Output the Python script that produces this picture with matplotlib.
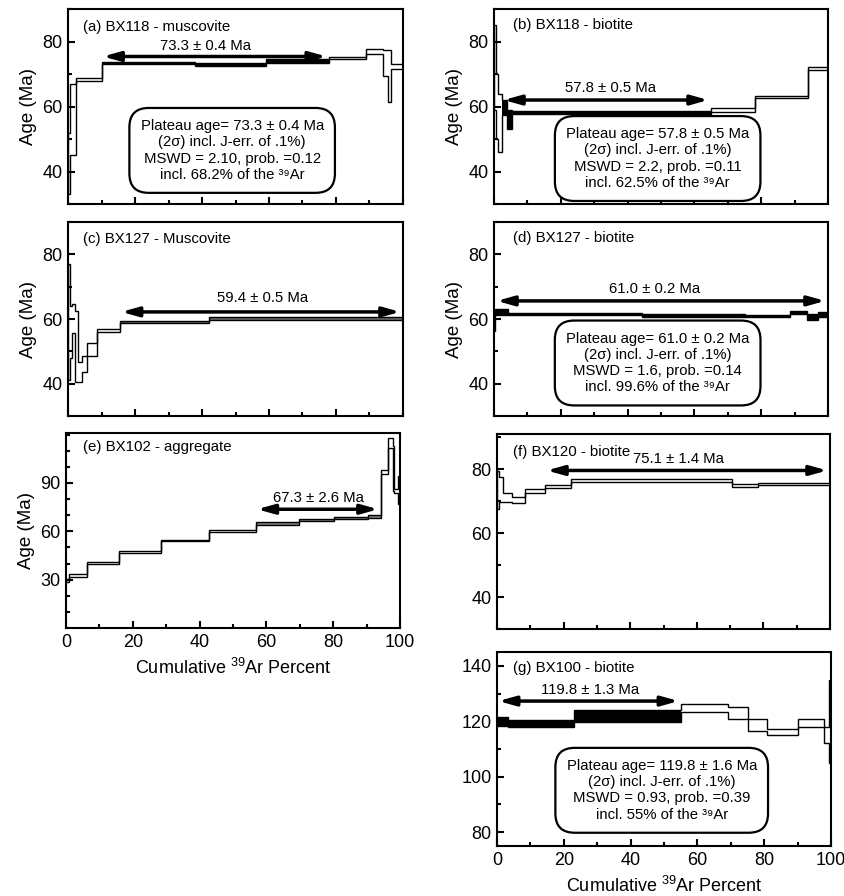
import matplotlib
matplotlib.use("Agg")
import matplotlib.pyplot as plt
from matplotlib.ticker import MultipleLocator, FixedLocator
import numpy as np

plt.rcParams['font.family'] = ['Liberation Sans', 'DejaVu Sans']
plt.rcParams['mathtext.fontset'] = 'custom'
plt.rcParams['mathtext.rm'] = 'Liberation Sans'
plt.rcParams['mathtext.it'] = 'Liberation Sans:italic'

# step edges (cumulative 39Ar %), ages (Ma), 2-sigma half widths, plateau steps [start, stop)
# (a) BX118 muscovite
a_edges = [0, 0.7, 2.3, 10, 38, 59, 78, 89, 94, 95.5, 96.5, 100]
a_age = [42.5, 56, 68.4, 73.4, 72.9, 74.0, 74.9, 76.9, 73.3, 69.5, 72.2]
a_err = [9.5, 11, 0.5, 0.45, 0.5, 0.5, 0.4, 0.7, 4, 8, 0.8]
a_plateau = (3, 6)

# (b) BX118 biotite
b_edges = [0, 0.6, 1.2, 2.5, 3.8, 5.3, 65, 78, 94, 100]
b_age = [72, 60, 55, 59.8, 56, 58.1, 59.0, 63.0, 71.7]
b_err = [13, 10, 9, 2.3, 3, 0.4, 0.6, 0.35, 0.6]
b_plateau = (3, 6)

# (c) BX127 muscovite
c_edges = [0, 0.5, 1.1, 2.1, 3.1, 4.1, 5.6, 8.6, 15.5, 42.2, 100]
c_age = [59, 56, 60.3, 51.5, 43.6, 46.1, 50.6, 56.4, 59.1, 60.2]
c_err = [18, 8, 4.5, 11, 3, 2.5, 2, 0.5, 0.4, 0.5]
c_plateau = (8, 10)

# (d) BX127 biotite
d_edges = [0, 0.4, 4.2, 44.2, 75, 88.6, 93.6, 97.1, 100]
d_age = [58.7, 62.2, 61.5, 61.1, 60.85, 62.0, 60.6, 61.45]
d_err = [2.5, 1.0, 0.35, 0.4, 0.35, 0.5, 0.9, 0.75]
d_plateau = (1, 8)

# (e) BX102 aggregate
e_edges = [0, 0.8, 6.2, 15.8, 28.5, 42.8, 56.8, 69.8, 80.2, 90.5, 94.3, 96.3, 97.8, 98.3, 99.5, 100]
e_age = [29.5, 32.6, 40.4, 47.0, 54.2, 60.2, 64.8, 66.8, 68.2, 69.2, 96.8, 114.7, 99, 85, 85.5]
e_err = [1.2, 1.0, 0.5, 0.6, 0.4, 0.6, 0.7, 0.7, 0.7, 1.0, 1.5, 3.0, 14, 1.0, 8.7]
e_plateau = (6, 10)

# (f) BX120 biotite
f_edges = [0, 0.6, 1.8, 4.5, 8.5, 14.5, 22.3, 70.7, 78.5, 100]
f_age = [73.5, 73.6, 71.2, 70.4, 73.2, 74.6, 76.5, 74.8, 75.25]
f_err = [6, 3.8, 1.4, 0.95, 0.5, 0.6, 0.4, 0.5, 0.35]
f_plateau = (5, 9)

# (g) BX100 biotite
g_edges = [0, 3.3, 22.9, 55.2, 69.1, 75.2, 80.8, 90.2, 97.8, 99.3, 100]
g_age = [120, 119.2, 121.9, 124.75, 123, 118.65, 116.2, 119.25, 114.9, 119.8]
g_err = [1.7, 1.2, 2.1, 1.35, 2, 2.05, 1.2, 1.45, 2.9, 15]
g_plateau = (0, 3)

titles = ["(a) BX118 - muscovite", "(b) BX118 - biotite", "(c) BX127 - Muscovite",
          "(d) BX127 - biotite", "(e) BX102 - aggregate", "(f) BX120 - biotite",
          "(g) BX100 - biotite"]
plateau_labels = ["73.3 ± 0.4 Ma", "57.8 ± 0.5 Ma", "59.4 ± 0.5 Ma", "61.0 ± 0.2 Ma",
                  "67.3 ± 2.6 Ma", "75.1 ± 1.4 Ma", "119.8 ± 1.3 Ma"]
box_a = "Plateau age= 73.3 ± 0.4 Ma\n(2σ) incl. J-err. of .1%)\nMSWD = 2.10, prob. =0.12\nincl. 68.2% of the ³⁹Ar"
box_b = "Plateau age= 57.8 ± 0.5 Ma\n(2σ) incl. J-err. of .1%)\nMSWD = 2.2, prob. =0.11\nincl. 62.5% of the ³⁹Ar"
box_d = "Plateau age= 61.0 ± 0.2 Ma\n(2σ) incl. J-err. of .1%)\nMSWD = 1.6, prob. =0.14\nincl. 99.6% of the ³⁹Ar"
box_g = "Plateau age= 119.8 ± 1.6 Ma\n(2σ) incl. J-err. of .1%)\nMSWD = 0.93, prob. =0.39\nincl. 55% of the ³⁹Ar"
xlab = 'Cumulative $^{39}$Ar Percent'


def setup(ax, ylim, major, minor, xlabels=False, ylabel=True):
    ax.set_xlim(0, 100)
    ax.set_ylim(*ylim)
    ax.xaxis.set_major_locator(MultipleLocator(20))
    ax.xaxis.set_minor_locator(MultipleLocator(10))
    if isinstance(major, list):
        ax.yaxis.set_major_locator(FixedLocator(major))
    else:
        ax.yaxis.set_major_locator(MultipleLocator(major))
    ax.yaxis.set_minor_locator(MultipleLocator(minor))
    ax.tick_params(which='both', direction='in', top=False, right=False, width=1.5, labelsize=13)
    ax.tick_params(which='major', length=5, pad=4)
    ax.tick_params(which='minor', length=3)
    for s in ax.spines.values():
        s.set_linewidth(1.5)
    if xlabels:
        ax.set_xlabel(xlab, fontsize=13, labelpad=5)
    else:
        ax.tick_params(axis='x', labelbottom=False)
    if ylabel:
        ax.set_ylabel('Age (Ma)', fontsize=13.5, labelpad=4)


def spectrum(ax, edges, age, err, plateau, fill):
    edges = np.asarray(edges, dtype=float)
    age = np.asarray(age, dtype=float)
    err = np.asarray(err, dtype=float)
    lo, hi = age - err, age + err
    p0, p1 = plateau
    if fill != 'white':
        ax.bar(edges[p0:p1], 2 * err[p0:p1], width=np.diff(edges)[p0:p1], bottom=lo[p0:p1],
               align='edge', color=fill, linewidth=0, zorder=2)
    ax.stairs(hi, edges, baseline=None, color='black', lw=1.0, zorder=3)
    ax.stairs(lo, edges, baseline=None, color='black', lw=1.0, zorder=3)
    ax.vlines([edges[0], edges[-1]], [lo[0], lo[-1]], [hi[0], hi[-1]], color='black', lw=1.0, zorder=3)


def arrow(ax, edges, plateau, y, label, tx, ty):
    ax.annotate('', xy=(edges[plateau[1]], y), xytext=(edges[plateau[0]], y),
                arrowprops=dict(arrowstyle='<|-|>,head_length=1.0,head_width=0.28',
                                color='black', lw=2.5, shrinkA=1, shrinkB=2), zorder=4)
    ax.text(tx, ty, label, ha='center', va='center', fontsize=10.7)


def infobox(ax, x, y, txt):
    ax.text(x, y, txt, ha='center', va='center', fontsize=10.7, linespacing=1.2, zorder=5,
            bbox=dict(boxstyle='round,pad=0.75,rounding_size=1.3', fc='white', ec='black', lw=1.6))


def title(ax, x, y, txt):
    ax.text(x, y, txt, transform=ax.transAxes, ha='left', va='center', fontsize=10.8, zorder=6)


fig = plt.figure(figsize=(8.45, 8.96), dpi=100)

ax = fig.add_axes([0.0805, 0.7723, 0.3964, 0.2176])
setup(ax, (30, 90), 20, 10)
spectrum(ax, a_edges, a_age, a_err, a_plateau, 'black')
arrow(ax, a_edges, a_plateau, 75.4, plateau_labels[0], 41, 78.6)
infobox(ax, 49, 46.5, box_a)
title(ax, 0.045, 0.91, titles[0])

ax = fig.add_axes([0.5846, 0.7723, 0.3953, 0.2176])
setup(ax, (30, 90), 20, 10)
spectrum(ax, b_edges, b_age, b_err, b_plateau, 'black')
arrow(ax, b_edges, b_plateau, 62, plateau_labels[1], 35, 65.8)
infobox(ax, 49, 44.0, box_b)
title(ax, 0.057, 0.92, titles[1])

ax = fig.add_axes([0.0805, 0.5357, 0.3964, 0.2165])
setup(ax, (30, 90), 20, 10)
spectrum(ax, c_edges, c_age, c_err, c_plateau, 'dimgray')
arrow(ax, c_edges, c_plateau, 62.2, plateau_labels[2], 58, 66.4)
title(ax, 0.045, 0.912, titles[2])

ax = fig.add_axes([0.5846, 0.5357, 0.3953, 0.2165])
setup(ax, (30, 90), 20, 10)
spectrum(ax, d_edges, d_age, d_err, d_plateau, 'black')
arrow(ax, d_edges, d_plateau, 65.6, plateau_labels[3], 48, 69.4)
infobox(ax, 49, 46.4, box_d)
title(ax, 0.057, 0.918, titles[3])

ax = fig.add_axes([0.0781, 0.2991, 0.3953, 0.2176])
setup(ax, (0, 121), [30, 60, 90], 10, xlabels=True)
spectrum(ax, e_edges, e_age, e_err, e_plateau, 'gray')
arrow(ax, e_edges, e_plateau, 73.7, plateau_labels[4], 75.5, 80.4)
title(ax, 0.051, 0.928, titles[4])

ax = fig.add_axes([0.5882, 0.2980, 0.3941, 0.2176])
setup(ax, (30, 91), 20, 10, ylabel=False)
spectrum(ax, f_edges, f_age, f_err, f_plateau, 'white')
arrow(ax, f_edges, f_plateau, 79.6, plateau_labels[5], 54.5, 83.1)
title(ax, 0.048, 0.908, titles[5])

ax = fig.add_axes([0.5882, 0.0558, 0.3953, 0.2165])
setup(ax, (75, 145), 20, 10, xlabels=True, ylabel=False)
spectrum(ax, g_edges, g_age, g_err, g_plateau, 'black')
arrow(ax, g_edges, g_plateau, 127.3, plateau_labels[6], 28, 131.2)
infobox(ax, 49.3, 95.1, box_g)
title(ax, 0.048, 0.918, titles[6])

fig.savefig('out.png', dpi=100)
